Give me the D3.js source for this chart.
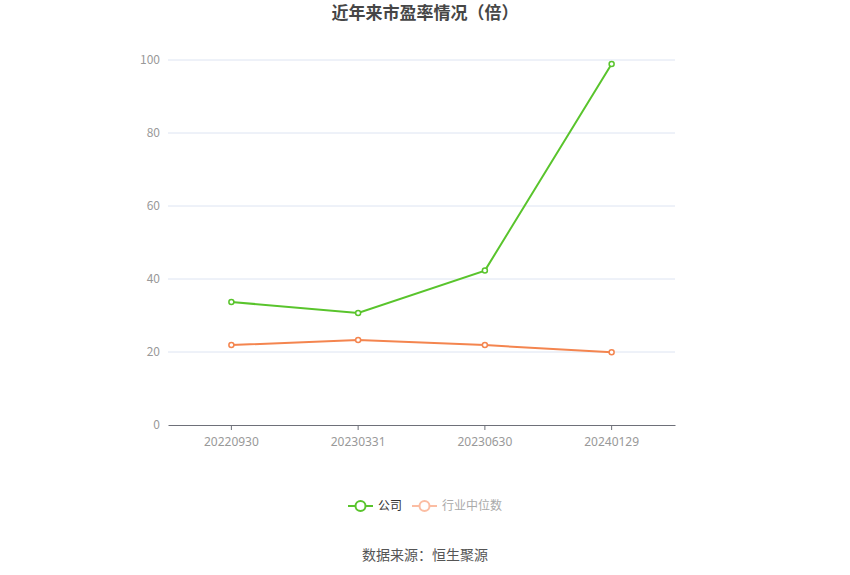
<!DOCTYPE html>
<html>
<head>
<meta charset="utf-8">
<script src="https://cdn.jsdelivr.net/npm/d3@7"></script>
<style>
  body { margin: 0; background: #fff; }
  svg { display: block; font-family: "Noto Sans CJK SC", "Noto Sans", sans-serif; }
</style>
</head>
<body>
<svg id="chart" width="850" height="575"></svg>
<script>
const categories = ['20220930', '20230331', '20230630', '20240129'];
const companyPE = [33.7, 30.7, 42.3, 98.9];
const industryPE = [21.9, 23.3, 21.9, 19.9];
const yTicks = [0, 20, 40, 60, 80, 100];

const series = [
  { name: '公司', values: companyPE, color: '#59c42c', legendColor: '#59c42c', legendText: '#333' },
  { name: '行业中位数', values: industryPE, color: '#f4854f', legendColor: '#fbbda3', legendText: '#aaa' }
];

const width = 850;
const margin = { top: 60, left: 168, right: 175, bottom: 150 };
const plotW = width - margin.left - margin.right;
const plotH = 575 - margin.top - margin.bottom;

const svg = d3.select('#chart');

svg.append('text')
  .attr('x', width / 2)
  .attr('y', 19)
  .attr('text-anchor', 'middle')
  .style('font-size', '17px')
  .style('font-weight', 'bold')
  .style('fill', '#464646')
  .text('近年来市盈率情况（倍）');

const g = svg.append('g').attr('transform', `translate(${margin.left},${margin.top})`);

const x = d3.scaleBand().domain(categories).range([0, plotW]);
const y = d3.scaleLinear().domain([0, 100]).range([plotH, 0]);

// grid lines
g.selectAll('.grid')
  .data(yTicks.filter(d => d !== 0))
  .enter().append('line')
  .attr('x1', 0).attr('x2', plotW)
  .attr('y1', d => y(d)).attr('y2', d => y(d))
  .attr('stroke', '#dde4f2')
  .attr('stroke-width', 1);

// y labels
g.selectAll('.ylab')
  .data(yTicks)
  .enter().append('text')
  .attr('x', -8)
  .attr('y', d => y(d))
  .attr('dy', '0.35em')
  .attr('text-anchor', 'end')
  .style('font-size', '12px')
  .style('fill', '#999')
  .text(d => d);

// x axis
const xAxis = g.append('g')
  .attr('transform', `translate(0,${plotH})`)
  .call(d3.axisBottom(x).tickSize(5).tickSizeOuter(0));
xAxis.select('.domain').attr('stroke', '#6e7079');
xAxis.selectAll('.tick line').attr('stroke', '#6e7079');
xAxis.selectAll('.tick text')
  .attr('dy', '1.1em')
  .style('font-size', '12px')
  .style('fill', '#999')
  .style('font-family', '"Noto Sans", sans-serif');

const line = d3.line()
  .x((d, i) => x(categories[i]) + x.bandwidth() / 2)
  .y(d => y(d));

series.forEach(s => {
  g.append('path')
    .datum(s.values)
    .attr('d', line)
    .attr('fill', 'none')
    .attr('stroke', s.color)
    .attr('stroke-width', 2);
  g.selectAll(null)
    .data(s.values)
    .enter().append('circle')
    .attr('cx', (d, i) => x(categories[i]) + x.bandwidth() / 2)
    .attr('cy', d => y(d))
    .attr('r', 2.5)
    .attr('fill', '#fff')
    .attr('stroke', s.color)
    .attr('stroke-width', 1.5);
});

// legend
const legend = svg.append('g').attr('transform', 'translate(348,506)');
const legendX = [0, 64];
series.forEach((s, i) => {
  const lg = legend.append('g').attr('transform', `translate(${legendX[i]},0)`);
  lg.append('line')
    .attr('x1', 0).attr('x2', 25)
    .attr('stroke', s.legendColor)
    .attr('stroke-width', 2);
  lg.append('circle')
    .attr('cx', 12.5).attr('cy', 0).attr('r', 5)
    .attr('fill', '#fff')
    .attr('stroke', s.legendColor)
    .attr('stroke-width', 2);
  lg.append('text')
    .attr('x', 30)
    .attr('dy', '0.35em')
    .style('font-size', '12px')
    .style('fill', s.legendText)
    .text(s.name);
});

svg.append('text')
  .attr('x', width / 2)
  .attr('y', 555)
  .attr('dy', '0.35em')
  .attr('text-anchor', 'middle')
  .style('font-size', '14px')
  .style('fill', '#555')
  .text('数据来源：恒生聚源');
</script>
</body>
</html>
